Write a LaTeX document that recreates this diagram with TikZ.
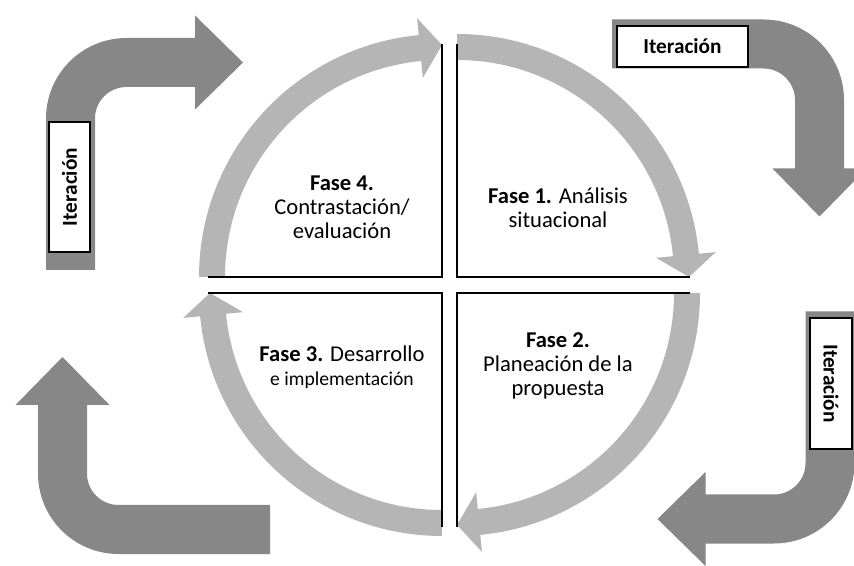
\documentclass[tikz,border=0pt]{standalone}
\usepackage{fontspec}
\setmainfont{Carlito}
\definecolor{arcgray}{gray}{0.71}
\definecolor{itergray}{gray}{0.53}

% light grey cycle arrow: centre, start angle (clockwise, 84.5 degrees of shaft)
\newcommand{\phasearrow}[2]{%
  \begin{scope}[shift={#1}]
    \draw[cyclearc] ({#2}:230) arc[start angle=#2, end angle={#2-84.7}, radius=230];
    \fill[arcgray] ({#2-84.5}:200) -- ({#2-90}:232) -- ({#2-84.5}:260) -- cycle;
  \end{scope}}

% dark grey bent "iteration" arrow: corner of the bend, rotation
\newcommand{\iterarrow}[2]{%
  \fill[itergray, shift={#1}, rotate=#2]
    (-24.5,-207.5) -- (-24.5,-56) arc[start angle=180, end angle=90, radius=80.5]
    -- (124.5,24.5) -- (124.5,47) -- (172.5,0) -- (124.5,-47) -- (124.5,-24.5)
    -- (56,-24.5) arc[start angle=90, end angle=180, radius=31.5]
    -- (24.5,-207.5) -- cycle;}

\begin{document}
\begin{tikzpicture}[x=1pt,y=1pt,
  quadline/.style={line width=1.5pt, black},
  cyclearc/.style={draw=arcgray, line width=26pt},
  iterbox/.style={draw=black, line width=1.5pt, fill=white, inner sep=0pt,
    font=\fontsize{21.3}{24}\selectfont\bfseries},
  phase/.style={align=center, font=\fontsize{22.6}{24}\selectfont}]
\useasboundingbox (0,0) rectangle (854,565);
\clip (0,0) rectangle (854,565);

% iteration arrows around the cycle
\iterarrow{(70.5,502.5)}{0}
\iterarrow{(819.5,521)}{-90}
\iterarrow{(830,46)}{180}
\iterarrow{(62.5,35.5)}{90}

\node[iterbox, rotate=90, minimum width=130pt, minimum height=41pt] (itTL) at (69.5,378) {Iteración};
\node[iterbox, minimum width=131pt, minimum height=41pt] (itTR) at (682.5,518.5) {Iteración};
\node[iterbox, rotate=-90, minimum width=131pt, minimum height=42pt] (itBR) at (831,181.5) {Iteración};

% cycle arrows
\phasearrow{(442,288)}{180}
\phasearrow{(457,288)}{90}
\phasearrow{(457,272)}{0}
\phasearrow{(442,272)}{270}

% quadrant borders
\draw[quadline] (208,288) -- (442,288) -- (442,521);
\draw[quadline] (690,288) -- (457,288) -- (457,521);
\draw[quadline] (208,272) -- (442,272) -- (442,38);
\draw[quadline] (690,272) -- (457,272) -- (457,38);

% phase labels
\node[phase] (f4) at (342,358) {\textbf{Fase 4.}\\Contrastación/\\evaluación};
\node[phase] (f1) at (558,357.5) {\textbf{Fase 1.} Análisis\\situacional};
\node[phase] (f3) at (342,198) {\textbf{Fase 3.} Desarrollo\\{\fontsize{19.6}{24}\selectfont e implementación}};
\node[phase] (f2) at (558,199) {\textbf{Fase 2.}\\Planeación de la\\propuesta};
\end{tikzpicture}
\end{document}
